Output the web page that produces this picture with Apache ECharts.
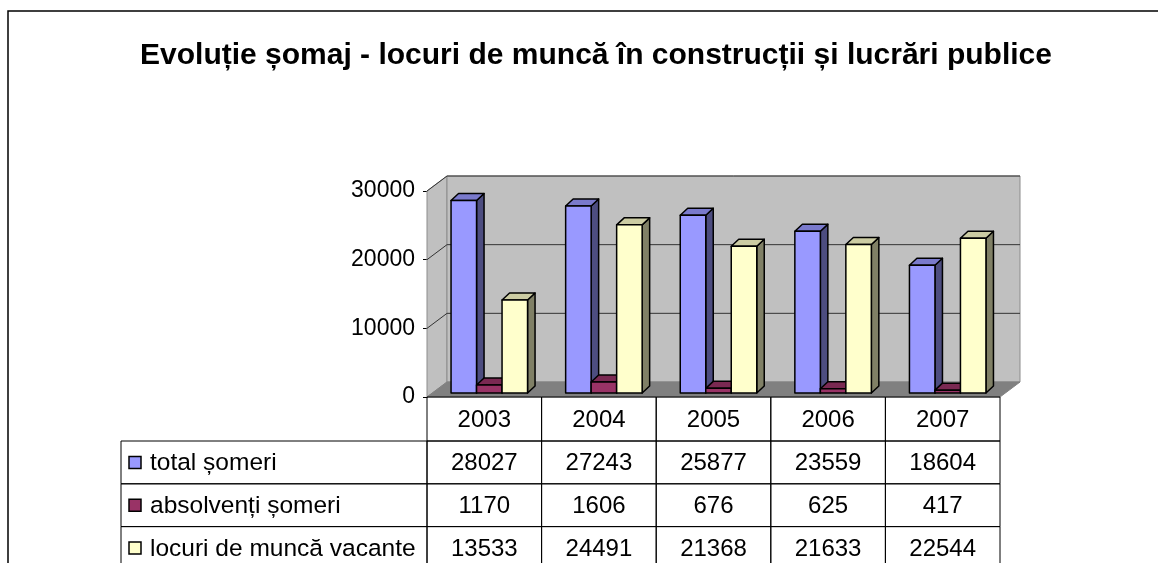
<!DOCTYPE html>
<html lang="ro">
<head>
<meta charset="UTF-8">
<title>Evoluție șomaj</title>
<script src="https://cdn.jsdelivr.net/npm/echarts@6/dist/echarts.min.js"></script>
<style>
    html, body { margin: 0; padding: 0; background: #fff; }
    #chart { width: 1158px; height: 563px; }
</style>
</head>
<body>
<div id="chart"></div>
<script>
    // data
    const years = ['2003', '2004', '2005', '2006', '2007'];
    const totalSomeri = [28027, 27243, 25877, 23559, 18604];
    const absolventiSomeri = [1170, 1606, 676, 625, 417];
    const locuriVacante = [13533, 24491, 21368, 21633, 22544];
    const seriesNames = ['total șomeri', 'absolvenți șomeri', 'locuri de muncă vacante'];
    const yTicks = [0, 10000, 20000, 30000];

    const rows = [totalSomeri, absolventiSomeri, locuriVacante];
    const faces = [
        {front: '#9999ff', side: '#4d4d80', top: '#7a7acc'},
        {front: '#993366', side: '#4d1a33', top: '#7a2952'},
        {front: '#ffffcc', side: '#808066', top: '#cccca3'}
    ];

    // 3d look
    const WALL_DX = 20, WALL_DY = -15;   // depth of floor / back wall
    const BAR_DX0 = 5, BAR_DY0 = -4;     // front face of bars
    const SIDE_DX = 7.5, SIDE_DY = -7;   // bar depth
    const BAR_W = 25.5;
    const TABLE_LEFT = 121, HEADER_H = 44, ROW_H = 42.8;
    const FONT = 'Liberation Sans, Arial, sans-serif';

    let myChart = echarts.init(document.getElementById('chart'));

    function renderWalls(params, api) {
        let cs = params.coordSys;
        let x0 = cs.x, x1 = cs.x + cs.width, yb = cs.y + cs.height, yt = cs.y;
        let children = [
            {type: 'polygon', shape: {points: [[x0, yb], [x0, yt], [x0 + WALL_DX, yt + WALL_DY], [x0 + WALL_DX, yb + WALL_DY]]},
                style: {fill: '#c0c0c0', stroke: '#8c8c8c', lineWidth: 1}},
            {type: 'rect', shape: {x: x0 + WALL_DX, y: yt + WALL_DY, width: x1 - x0, height: yb - yt},
                style: {fill: '#c0c0c0', stroke: '#8c8c8c', lineWidth: 1}},
            {type: 'polygon', shape: {points: [[x0, yb], [x0 + WALL_DX, yb + WALL_DY], [x1 + WALL_DX, yb + WALL_DY], [x1, yb]]},
                style: {fill: '#808080', stroke: '#808080', lineWidth: 1}}
        ];
        yTicks.forEach(v => {
            if (v === 0) return;
            let y = api.coord([0, v])[1];
            children.push({type: 'polyline', shape: {points: [[x0, y], [x0 + WALL_DX, y + WALL_DY], [x1 + WALL_DX, y + WALL_DY]]},
                style: {stroke: '#333', lineWidth: 1, fill: null}});
        });
        return {type: 'group', children: children};
    }

    function barRenderer(si) {
        return function (params, api) {
            let c = api.value(0), v = api.value(1);
            let center = api.coord([c, 0])[0];
            let xl = center - 1.5 * BAR_W + si * BAR_W + BAR_DX0;
            let xr = xl + BAR_W;
            let yb = api.coord([c, 0])[1] + BAR_DY0;
            let yt = api.coord([c, v])[1] + BAR_DY0;
            let f = faces[si];
            let st = {stroke: '#000', lineWidth: 1.5, lineJoin: 'round'};
            return {
                type: 'group', children: [
                    {type: 'polygon', shape: {points: [[xr, yb], [xr + SIDE_DX, yb + SIDE_DY], [xr + SIDE_DX, yt + SIDE_DY], [xr, yt]]},
                        style: Object.assign({fill: f.side}, st)},
                    {type: 'polygon', shape: {points: [[xl, yt], [xl + SIDE_DX, yt + SIDE_DY], [xr + SIDE_DX, yt + SIDE_DY], [xr, yt]]},
                        style: Object.assign({fill: f.top}, st)},
                    {type: 'rect', shape: {x: xl, y: yt, width: BAR_W, height: yb - yt},
                        style: Object.assign({fill: f.front}, st)}
                ]
            };
        };
    }

    function renderTable(params, api) {
        let c = api.value(0), r = api.value(1);
        let band = api.size([1, 0])[0];
        let cx = api.coord([c, 0])[0];
        let top = params.coordSys.y + params.coordSys.height;
        let y = r < 0 ? top : top + HEADER_H + r * ROW_H;
        let h = r < 0 ? HEADER_H : ROW_H;
        let text = r < 0 ? years[c] : String(rows[r][c]);
        let children = [
            {type: 'rect', shape: {x: cx - band / 2, y: y, width: band, height: h},
                style: {fill: null, stroke: '#000', lineWidth: 1}},
            {type: 'text', x: cx, y: y + h / 2 + 1,
                style: {text: text, fill: '#000', font: '24px ' + FONT, align: 'center', verticalAlign: 'middle'}}
        ];
        if (c === 0 && r >= 0) {
            let x0 = params.coordSys.x;
            children.push(
                {type: 'rect', shape: {x: TABLE_LEFT, y: y, width: x0 - TABLE_LEFT, height: h},
                    style: {fill: null, stroke: '#000', lineWidth: 1}},
                {type: 'rect', shape: {x: TABLE_LEFT + 8, y: y + h / 2 - 6, width: 12, height: 12},
                    style: {fill: faces[r].front, stroke: '#000', lineWidth: 1.5}},
                {type: 'text', x: TABLE_LEFT + 29, y: y + h / 2 + 1,
                    style: {text: seriesNames[r], fill: '#000', font: '24.5px ' + FONT, align: 'left', verticalAlign: 'middle'}}
            );
        }
        return {type: 'group', children: children};
    }

    let tableData = [];
    for (let r = -1; r < rows.length; r++) {
        for (let c = 0; c < years.length; c++) tableData.push([c, r]);
    }

    let seriesData = [
        {type: 'custom', name: 'walls', renderItem: renderWalls, data: [[0, 0]], z: 1, silent: true}
    ];
    rows.forEach((row, si) => {
        seriesData.push({
            type: 'custom',
            name: seriesNames[si],
            renderItem: barRenderer(si),
            data: row.map((v, i) => [i, v]),
            z: 2 + si
        });
    });
    seriesData.push({type: 'custom', name: 'table', renderItem: renderTable, data: tableData, z: 10, silent: true});

    let option = {
        animation: false,
        title: {
            text: 'Evoluție șomaj - locuri de muncă în construcții și lucrări publice',
            left: 591,
            textAlign: 'center',
            top: 36,
            textStyle: {fontFamily: FONT, fontSize: 30, fontWeight: 'bold', color: '#000'}
        },
        graphic: [
            {type: 'rect', shape: {x: 8, y: 11, width: 1200, height: 600},
                style: {fill: null, stroke: '#000', lineWidth: 1.5}, z: 0}
        ],
        grid: {left: 427, top: 191, width: 573, height: 206},
        xAxis: {
            type: 'category',
            data: years,
            axisLine: {show: false},
            axisTick: {show: false},
            axisLabel: {show: false}
        },
        yAxis: {
            type: 'value',
            min: 0,
            max: 30000,
            interval: 10000,
            axisLine: {show: true, lineStyle: {color: '#000', width: 1}},
            axisTick: {show: true, length: 4, lineStyle: {color: '#000'}},
            splitLine: {show: false},
            axisLabel: {color: '#000', fontSize: 23, fontFamily: FONT, margin: 12, formatter: v => String(v)}
        },
        series: seriesData
    };
    myChart.setOption(option);
</script>
</body>
</html>
